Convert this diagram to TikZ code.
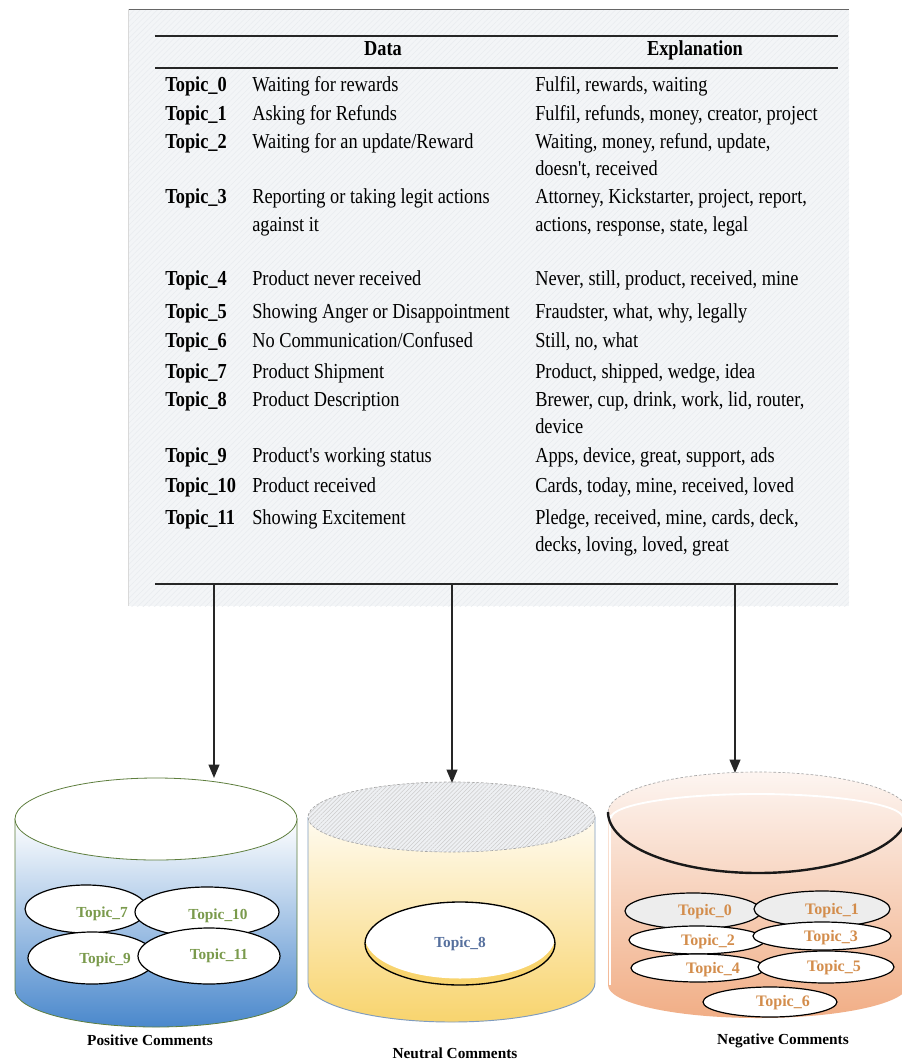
\documentclass[tikz,border=0pt]{standalone}
\usepackage{fontspec}
\setmainfont{Liberation Serif}
\newfontfamily\tabfont{Liberation Serif}[FakeStretch=0.86]
\usetikzlibrary{arrows.meta,patterns.meta}
\definecolor{panelbg}{HTML}{F3F5F7}
\definecolor{panelhatch}{HTML}{E9ECEF}
\definecolor{posgreen}{HTML}{7A9A4C}
\definecolor{posline}{HTML}{5E7E3E}
\definecolor{posblue}{HTML}{4A88CC}
\definecolor{posmid}{HTML}{C4DCF1}
\definecolor{neutblue}{HTML}{56709E}
\definecolor{neutside}{HTML}{7F9CC0}
\definecolor{neuttop}{HTML}{FFFBF0}
\definecolor{neutbot}{HTML}{F8D46E}
\definecolor{neutmid}{HTML}{FCE9B0}
\definecolor{neghatch}{HTML}{EEF0F3}
\definecolor{negorange}{HTML}{D38D4C}
\definecolor{negtop}{HTML}{FDF5F1}
\definecolor{negmid}{HTML}{F8D5C0}
\definecolor{negbot}{HTML}{F1AE86}
\definecolor{ellgray}{HTML}{EDEDED}
\begin{document}
\begin{tikzpicture}[x=0.75pt,y=-0.75pt,
  lbl/.style={font=\tabfont\fontsize{16}{19}\selectfont\bfseries, anchor=mid west, inner sep=0pt},
  txt/.style={font=\tabfont\fontsize{16}{19}\selectfont, anchor=mid west, inner sep=0pt},
  hdr/.style={font=\tabfont\fontsize{16}{19}\selectfont\bfseries, anchor=mid, inner sep=0pt},
  rulestyle/.style={line width=1.5pt, black!85},
  arrowline/.style={line width=1.4pt, black!85, -{Triangle[length=10pt,width=8pt]}},
  posell/.style={draw=black, line width=0.9pt, fill=white},
  negell/.style={draw=black, line width=0.9pt, fill=white},
  postxt/.style={font=\fontsize{11.5}{13}\selectfont\bfseries, text=posgreen, inner sep=0pt},
  negtxt/.style={font=\fontsize{12}{13}\selectfont\bfseries, text=negorange, inner sep=0pt},
  captxt/.style={font=\fontsize{11.5}{13}\selectfont\bfseries, inner sep=0pt}
]
\useasboundingbox (0,0) rectangle (901,1061);
\fill[white] (0,0) rectangle (901,1061);

% ---------- table panel ----------
\fill[panelbg] (128,9) rectangle (849,606);
\fill[pattern={Lines[angle=45,distance=3pt,line width=0.4pt]}, pattern color=panelhatch] (128,9) rectangle (849,606);
\draw[black!60, line width=0.4pt] (128,9) -- (849,9);
\draw[black!15, line width=0.6pt] (128,9) -- (128,606);

\coordinate (r1a) at (155,36);  \coordinate (r1b) at (838,36);
\coordinate (r2a) at (155,68);  \coordinate (r2b) at (838,68);
\coordinate (r3a) at (155,584); \coordinate (r3b) at (838,584);
\draw[rulestyle] (r1a) -- (r1b);
\draw[line width=1pt, black!85] (r2a) -- (r2b);
\draw[rulestyle] (r3a) -- (r3b);

\node[hdr] (hdata) at (383,52) {Data};
\node[hdr] (hexpl) at (695,52) {Explanation};

\node[lbl] (l0) at (165,88) {Topic\_0};
\node[txt] (d0) at (252,88) {Waiting for rewards};
\node[txt] (e0) at (535,88) {Fulfil, rewards, waiting};

\node[lbl] (l1) at (165,117) {Topic\_1};
\node[txt] (d1) at (252,117) {Asking for Refunds};
\node[txt] (e1) at (535,117) {Fulfil, refunds, money, creator, project};

\node[lbl] (l2) at (165,145) {Topic\_2};
\node[txt] (d2) at (252,145) {Waiting for an update/Reward};
\node[txt] (e2) at (535,145) {Waiting, money, refund, update,};
\node[txt] (e2b) at (535,172) {doesn't, received};

\node[lbl] (l3) at (165,200) {Topic\_3};
\node[txt] (d3) at (252,200) {Reporting or taking legit actions};
\node[txt] (d3b) at (252,228) {against it};
\node[txt] (e3) at (535,200) {Attorney, Kickstarter, project, report,};
\node[txt] (e3b) at (535,228) {actions, response, state, legal};

\node[lbl] (l4) at (165,282) {Topic\_4};
\node[txt] (d4) at (252,282) {Product never received};
\node[txt] (e4) at (535,282) {Never, still, product, received, mine};

\node[lbl] (l5) at (165,315) {Topic\_5};
\node[txt] (d5) at (252,315) {Showing Anger or Disappointment};
\node[txt] (e5) at (535,315) {Fraudster, what, why, legally};

\node[lbl] (l6) at (165,344) {Topic\_6};
\node[txt] (d6) at (252,344) {No Communication/Confused};
\node[txt] (e6) at (535,344) {Still, no, what};

\node[lbl] (l7) at (165,375) {Topic\_7};
\node[txt] (d7) at (252,375) {Product Shipment};
\node[txt] (e7) at (535,375) {Product, shipped, wedge, idea};

\node[lbl] (l8) at (165,403) {Topic\_8};
\node[txt] (d8) at (252,403) {Product Description};
\node[txt] (e8) at (535,403) {Brewer, cup, drink, work, lid, router,};
\node[txt] (e8b) at (535,430) {device};

\node[lbl] (l9) at (165,459) {Topic\_9};
\node[txt] (d9) at (252,459) {Product's working status};
\node[txt] (e9) at (535,459) {Apps, device, great, support, ads};

\node[lbl] (l10) at (165,489) {Topic\_10};
\node[txt] (d10) at (252,489) {Product received};
\node[txt] (e10) at (535,489) {Cards, today, mine, received, loved};

\node[lbl] (l11) at (165,521) {Topic\_11};
\node[txt] (d11) at (252,521) {Showing Excitement};
\node[txt] (e11) at (535,521) {Pledge, received, mine, cards, deck,};
\node[txt] (e11b) at (535,548) {decks, loving, loved, great};

% ---------- positive cylinder ----------
\shade[top color=white, middle color=posmid, bottom color=posblue, draw=posline, line width=0.6pt]
  (15,819) -- (15,990) arc[start angle=180, end angle=0, x radius=141, y radius=37] -- (297,819) -- cycle;
\fill[white] (156,819) ellipse [x radius=141, y radius=41];
\draw[posline, line width=0.6pt] (156,819) ellipse [x radius=141, y radius=41];
\coordinate (ctop1) at (214,778);

\draw[posell] (86,909) ellipse [x radius=61, y radius=24];
\draw[posell] (207,912) ellipse [x radius=72, y radius=25];
\draw[posell] (92,958) ellipse [x radius=64, y radius=26];
\draw[posell] (209,956) ellipse [x radius=71, y radius=28];
\node[postxt] (p7) at (102,914) {Topic\_7};
\node[postxt] (p10) at (218,916) {Topic\_10};
\node[postxt] (p9) at (105,960) {Topic\_9};
\node[postxt] (p11) at (219,956) {Topic\_11};
\node[captxt] (cappos) at (150,1040) {Positive Comments};

% ---------- neutral cylinder ----------
\shade[top color=neuttop, middle color=neutmid, bottom color=neutbot]
  (308,817) -- (308,983) arc[start angle=180, end angle=0, x radius=143.5, y radius=39] -- (595,817) -- cycle;
\draw[neutside, line width=0.7pt] (308,817) -- (308,983) arc[start angle=180, end angle=0, x radius=143.5, y radius=39] -- (595,817);
\fill[neghatch] (451.5,817) ellipse [x radius=143.5, y radius=35];
\fill[pattern={Lines[angle=45,distance=2.2pt,line width=0.4pt]}, pattern color=black!20] (451.5,817) ellipse [x radius=143.5, y radius=35];
\draw[black!35, line width=0.5pt, dash pattern=on 2pt off 1.5pt] (451.5,817) ellipse [x radius=143.5, y radius=35];
\coordinate (ctop2) at (452,783);

\fill[neutbot] (460,943.5) ellipse [x radius=95, y radius=41.5];
\begin{scope}
  \clip (460,943.5) ellipse [x radius=95, y radius=41.5];
  \fill[white] (460,937) ellipse [x radius=95, y radius=41.5];
\end{scope}
\draw[black, line width=1pt] (460,943.5) ellipse [x radius=95, y radius=41.5];
\node[font=\fontsize{11.5}{13}\selectfont\bfseries, text=neutblue, inner sep=0pt] (n8) at (460,944) {Topic\_8};
\node[captxt] (capneu) at (455,1053) {Neutral Comments};

% ---------- negative cylinder ----------
\shade[top color=negtop, middle color=negmid, bottom color=negbot]
  (608,812) arc[start angle=180, end angle=360, x radius=150, y radius=40]
  -- (908,985) arc[start angle=0, end angle=180, x radius=150, y radius=33] -- cycle;
\draw[white, line width=1.5pt] (610,815) -- (610,985);
\draw[black!35, line width=0.5pt, dash pattern=on 2pt off 1.5pt] (608,812) arc[start angle=180, end angle=360, x radius=150, y radius=40];
\draw[white, line width=1.4pt] (611,818) arc[start angle=180, end angle=360, x radius=146, y radius=24];
\draw[black!90, line width=1.8pt] (608,812) arc[start angle=180, end angle=0, x radius=150, y radius=61];
\coordinate (ctop3) at (735,773);

\draw[negell, fill=ellgray] (693,911) ellipse [x radius=68, y radius=18];
\draw[negell, fill=ellgray] (822,909) ellipse [x radius=68, y radius=18];
\draw[negell] (697,940) ellipse [x radius=68, y radius=14];
\draw[negell] (822,936) ellipse [x radius=69, y radius=14];
\draw[negell] (698,968) ellipse [x radius=67, y radius=14];
\draw[negell] (826,967) ellipse [x radius=68, y radius=16];
\draw[negell] (770,1002) ellipse [x radius=67, y radius=15];
\node[negtxt] (g0) at (705,912) {Topic\_0};
\node[negtxt] (g1) at (832,911) {Topic\_1};
\node[negtxt] (g2) at (708,942) {Topic\_2};
\node[negtxt] (g3) at (831,938) {Topic\_3};
\node[negtxt] (g4) at (713,970) {Topic\_4};
\node[negtxt] (g5) at (834,968) {Topic\_5};
\node[negtxt] (g6) at (783,1003) {Topic\_6};
\node[captxt] (capneg) at (783,1041) {Negative Comments};

% ---------- arrows ----------
\coordinate (a1) at (214,584);
\coordinate (a2) at (452,584);
\coordinate (a3) at (735,584);
\draw[arrowline] (a1) -- (ctop1);
\draw[arrowline] (a2) -- (ctop2);
\draw[arrowline] (a3) -- (ctop3);
\end{tikzpicture}
\end{document}
